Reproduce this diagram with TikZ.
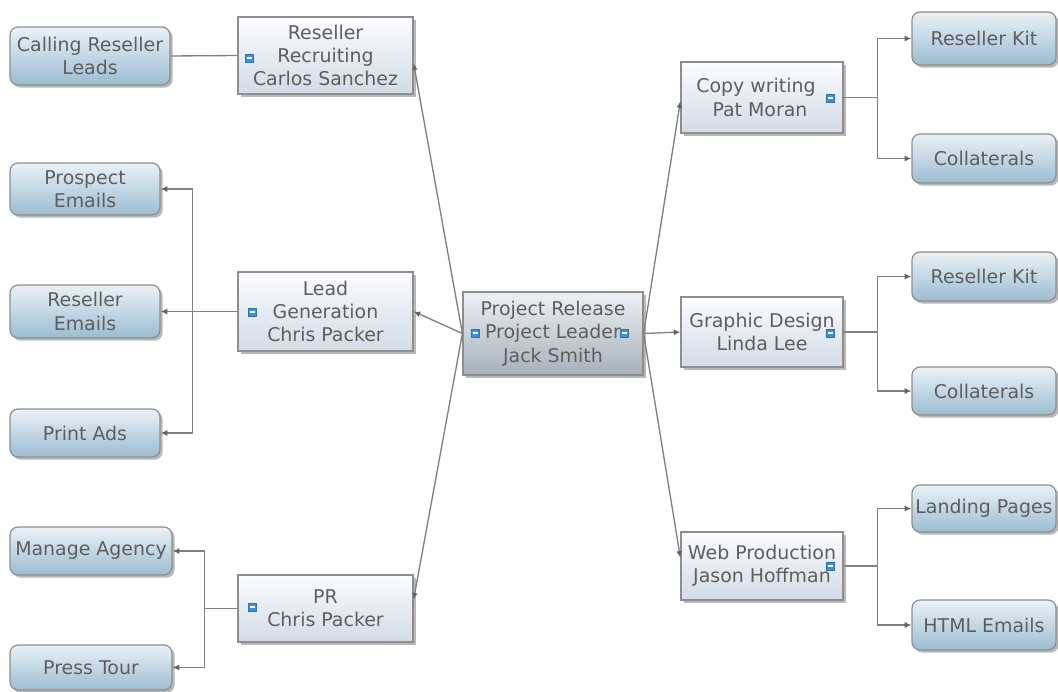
\documentclass[tikz,border=0pt]{standalone}
\usepackage{fontspec}
\setmainfont{DejaVu Sans}
\usetikzlibrary{arrows.meta,shadows,calc}

\definecolor{txt}{HTML}{5E5E5E}
\definecolor{edge}{HTML}{8E8E8E}
\definecolor{wire}{HTML}{808080}
\definecolor{tip}{HTML}{646464}
\definecolor{midtop}{HTML}{FBFCFE}
\definecolor{midbot}{HTML}{D2DBE6}
\definecolor{leaftop}{HTML}{EAF2F7}
\definecolor{leafbot}{HTML}{9BBCD1}
\definecolor{hubtop}{HTML}{EEF1F4}
\definecolor{hubbot}{HTML}{A4B0BA}
\definecolor{iconblue}{HTML}{3C8FDB}

\tikzset{
  x=0.75pt, y=-0.75pt,
  sz/.style 2 args={minimum width=#1*0.75pt, minimum height=#2*0.75pt},
  box/.style={draw=edge, line width=0.9pt, text=txt, align=center,
    font=\fontsize{14.2}{17.5}\selectfont, inner sep=0pt,
    drop shadow={shadow xshift=2pt, shadow yshift=-2pt, opacity=0.28, fill=black}},
  task/.style={box, top color=midtop, bottom color=midbot},
  leaf/.style={box, rounded corners=6pt, top color=leaftop, bottom color=leafbot},
  hub/.style={box, top color=hubtop, bottom color=hubbot},
  icon/.style={fill=iconblue, draw=iconblue!80!black, line width=0.3pt,
    minimum size=6pt, inner sep=0pt,
    path picture={\draw[white, line width=0.8pt]
      ([xshift=1pt]path picture bounding box.west) --
      ([xshift=-1pt]path picture bounding box.east);}},
  wirebase/.style={draw=wire, line width=1pt},
  link/.style={wirebase, -{Latex[length=5pt, width=4.5pt, color=tip]}},
}

\begin{document}
\begin{tikzpicture}
\useasboundingbox (0,0) rectangle (1058,692);

% central topic
\node[hub, sz={180}{83}] (ctr) at (553,333.5) {Project Release\\Project Leader\\Jack Smith};

% main branches, left side
\node[task, sz={175}{77}] (rr) at (325.5,55.5) {Reseller\\Recruiting\\Carlos Sanchez};
\node[task, sz={175}{79}] (lg) at (325.5,311.5) {Lead\\Generation\\Chris Packer};
\node[task, sz={175}{67}] (pr) at (325.5,608.5) {PR\\Chris Packer};

% main branches, right side
\node[task, sz={162}{71}] (cw) at (762,97.5) {Copy writing\hspace*{9pt}\\Pat Moran\hspace*{3pt}};
\node[task, sz={162}{70}] (gd) at (762,332) {Graphic Design\\Linda Lee};
\node[task, sz={162}{68}] (wp) at (762,566) {Web Production\\Jason Hoffman};

% subtopics, left side
\node[leaf, sz={160}{58}] (crl) at (90,56) {Calling Reseller\\Leads};
\node[leaf, sz={150}{52}] (pe) at (85,189) {Prospect\\Emails};
\node[leaf, sz={150}{53}] (re) at (85,311.5) {Reseller\\Emails};
\node[leaf, sz={150}{48}] (pa) at (85,433) {Print Ads};
\node[leaf, sz={162}{48}] (ma) at (91,551) {Manage Agency};
\node[leaf, sz={162}{45}] (pt) at (91,667.5) {Press Tour};

% subtopics, right side
\node[leaf, sz={144}{53}] (rk1) at (984,38.5) {Reseller Kit};
\node[leaf, sz={144}{49}] (co1) at (984,158.5) {Collaterals};
\node[leaf, sz={144}{49}] (rk2) at (984,276.5) {Reseller Kit};
\node[leaf, sz={144}{48}] (co2) at (984,391) {Collaterals};
\node[leaf, sz={144}{47}] (lp) at (984,508.5) {Landing Pages};
\node[leaf, sz={144}{50}] (he) at (984,625) {HTML Emails};

% note markers
\node[icon] (n1) at ($(rr.west)+(12,2.5)$) {};
\node[icon] (n2) at ($(lg.west)+(15,0.5)$) {};
\node[icon] (n3) at ($(pr.west)+(15,-1.5)$) {};
\node[icon] (n4) at ($(ctr.west)+(13,-0.5)$) {};
\node[icon] (n5) at ($(ctr.east)+(-19,-0.5)$) {};
\node[icon] (n6) at ($(cw.east)+(-13,0.5)$) {};
\node[icon] (n7) at ($(gd.east)+(-13,1)$) {};
\node[icon] (n8) at ($(wp.east)+(-13,0)$) {};

% centre to main branches
\draw[link] (ctr.west) -- ($(rr.north east)!0.6!(rr.south east)$);
\draw[link] (ctr.west) -- (lg.east);
\draw[link] (ctr.west) -- ($(pr.north east)!0.37!(pr.south east)$);
\draw[link] (ctr.east) -- ($(cw.north west)!0.55!(cw.south west)$);
\draw[link] (ctr.east) -- (gd.west);
\draw[link] (ctr.east) -- ($(wp.north west)!0.38!(wp.south west)$);

% main branches to subtopics
\draw[wirebase] (rr.west) -- (crl.east);
\draw[link] (lg.west) -- ++(-45,0) |- (pe.east);
\draw[link] (lg.west) -- (re.east);
\draw[link] (lg.west) -- ++(-45,0) |- (pa.east);
\draw[link] (pr.west) -- ++(-33,0) |- (ma.east);
\draw[link] (pr.west) -- ++(-33,0) |- (pt.east);
\draw[link] (cw.east) -- ++(34,0) |- (rk1.west);
\draw[link] (cw.east) -- ++(34,0) |- (co1.west);
\draw[link] (gd.east) -- ++(34,0) |- (rk2.west);
\draw[link] (gd.east) -- ++(34,0) |- (co2.west);
\draw[link] (wp.east) -- ++(34,0) |- (lp.west);
\draw[link] (wp.east) -- ++(34,0) |- (he.west);
\end{tikzpicture}
\end{document}
